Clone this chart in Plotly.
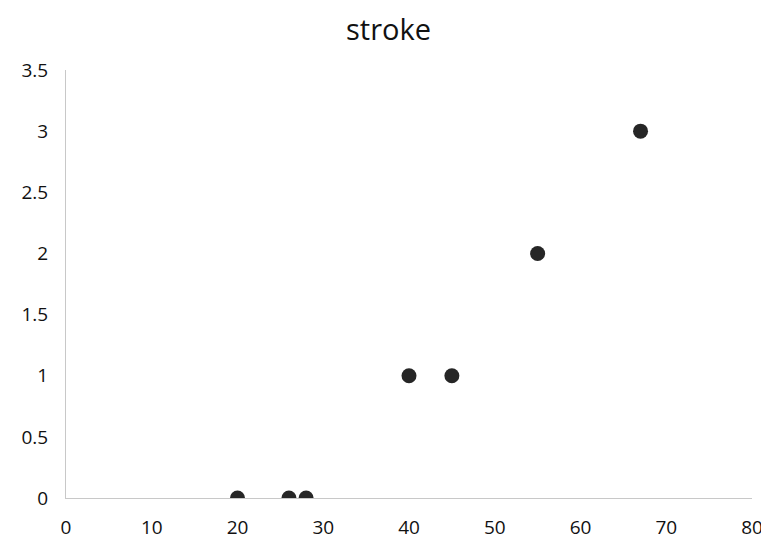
import plotly.graph_objects as go

age = [20, 26, 28, 40, 45, 55, 67]
stroke = [0, 0, 0, 1, 1, 2, 3]
x_ticks = [0, 10, 20, 30, 40, 50, 60, 70, 80]
y_ticks = [0, 0.5, 1, 1.5, 2, 2.5, 3, 3.5]

fig = go.Figure(go.Scatter(
    x=age, y=stroke, mode="markers",
    marker=dict(size=15, color="#262626", line=dict(width=0)),
))

font = "Open Sans, Liberation Sans, sans-serif"
# the page body adds an 8px margin, so the figure is sized to fit inside it
fig.update_layout(
    width=761, height=551,
    margin=dict(l=58, r=17, t=62, b=61),
    paper_bgcolor="white", plot_bgcolor="white",
    title=dict(text="stroke", x=0.5, xanchor="center", y=0.96, yanchor="middle",
               font=dict(family=font, size=29, color="#111")),
    showlegend=False,
    font=dict(family=font, size=19, color="#111"),
)
fig.update_xaxes(range=[0, 80], tickvals=x_ticks, ticktext=[str(v) for v in x_ticks],
                 showgrid=False, zeroline=False, showline=True, linecolor="#c8c8c8",
                 linewidth=1, ticks="", ticklabelstandoff=12, automargin=False)
fig.update_yaxes(range=[0, 3.5], tickvals=y_ticks, ticktext=[f"{v:g}" for v in y_ticks],
                 showgrid=False, zeroline=False, showline=True, linecolor="#c8c8c8",
                 linewidth=1, ticks="", ticklabelstandoff=13, automargin=False)

fig.write_html("out.html")
